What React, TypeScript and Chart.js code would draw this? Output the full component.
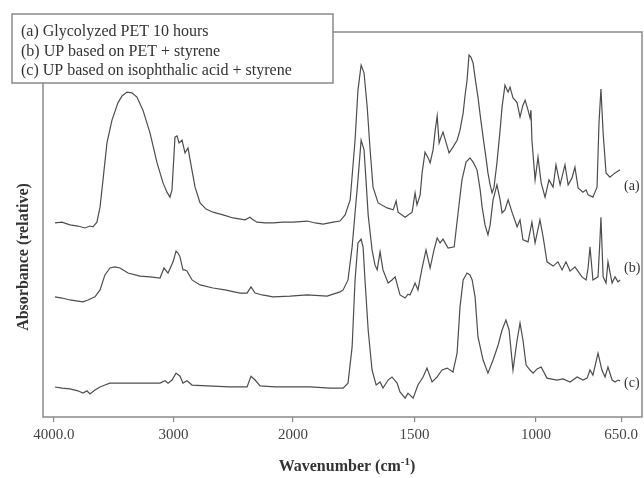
import React, { useEffect, useRef } from "react";
import { Chart, registerables } from "chart.js";

Chart.register(...registerables);

// ---- Data (wavenumber in cm-1, relative absorbance with vertical offsets as plotted) ----
const waveA = [3992, 3933, 3867, 3800, 3741, 3699, 3674, 3641, 3615, 3590, 3557, 3515, 3465, 3431, 3389, 3348, 3306, 3256, 3197, 3138, 3088, 3055, 3030, 3013, 2988, 2971, 2954, 2929, 2904, 2879, 2854, 2820, 2778, 2728, 2670, 2586, 2502, 2402, 2360, 2335, 2301, 2234, 2167, 2084, 2000, 1942, 1909, 1877, 1835, 1807, 1786, 1765, 1745, 1733, 1720, 1708, 1695, 1683, 1671, 1650, 1613, 1588, 1576, 1568, 1539, 1510, 1498, 1490, 1477, 1469, 1457, 1444, 1436, 1424, 1415, 1407, 1399, 1391, 1383, 1370, 1358, 1342, 1325, 1313, 1300, 1292, 1284, 1276, 1268, 1259, 1251, 1239, 1230, 1218, 1206, 1198, 1189, 1181, 1173, 1161, 1148, 1140, 1128, 1119, 1115, 1107, 1095, 1086, 1078, 1066, 1054, 1045, 1033, 1025, 1021, 1017, 1004, 992, 979, 963, 947, 930, 918, 901, 881, 868, 852, 840, 827, 807, 794, 786, 766, 749, 741, 733, 724, 712, 696, 675, 654];
const absA = [5.04, 5.06, 4.99, 4.96, 4.91, 4.96, 4.94, 5.06, 5.45, 6.16, 7.12, 7.71, 8.16, 8.34, 8.44, 8.42, 8.31, 7.97, 7.38, 6.6, 6.08, 5.84, 5.71, 5.9, 7.27, 7.3, 7.12, 7.19, 6.86, 6.99, 6.55, 5.97, 5.56, 5.4, 5.32, 5.25, 5.17, 5.12, 5.19, 5.12, 5.06, 5.04, 5.04, 5.06, 5.06, 5.09, 5.04, 5.01, 5.06, 5.09, 5.25, 5.64, 7.19, 8.49, 9.14, 8.94, 8.05, 6.94, 5.97, 5.56, 5.43, 5.38, 5.61, 5.32, 5.19, 5.32, 5.82, 5.51, 5.77, 6.34, 6.88, 6.73, 6.6, 6.94, 7.45, 7.82, 7.12, 7.27, 7.4, 7.12, 6.86, 7.01, 7.19, 7.45, 7.9, 8.36, 8.75, 9.4, 9.35, 9.19, 8.81, 8.31, 7.84, 7.27, 6.73, 6.34, 6.03, 5.82, 5.97, 6.6, 7.45, 8.05, 8.62, 8.49, 8.44, 8.57, 8.29, 8.23, 8.16, 7.79, 8.1, 8.23, 7.97, 7.77, 7.97, 7.19, 6.16, 6.75, 6.08, 5.71, 6.16, 5.97, 6.55, 6.03, 6.55, 6.03, 6.21, 6.49, 5.95, 5.84, 5.9, 5.77, 5.71, 5.97, 7.64, 8.52, 7.38, 6.34, 6.23, 6.34, 6.42];

const waveB = [3992, 3933, 3867, 3800, 3758, 3716, 3657, 3615, 3574, 3532, 3490, 3448, 3381, 3281, 3197, 3113, 3080, 3046, 3004, 2979, 2963, 2946, 2921, 2904, 2887, 2845, 2778, 2670, 2569, 2444, 2385, 2352, 2318, 2259, 2167, 2025, 1942, 1860, 1807, 1794, 1774, 1757, 1745, 1733, 1720, 1708, 1700, 1691, 1675, 1663, 1654, 1642, 1630, 1609, 1593, 1580, 1560, 1539, 1527, 1519, 1506, 1498, 1486, 1469, 1453, 1436, 1420, 1407, 1395, 1383, 1362, 1337, 1321, 1305, 1288, 1272, 1259, 1243, 1230, 1222, 1210, 1198, 1189, 1177, 1161, 1148, 1140, 1128, 1115, 1099, 1078, 1066, 1054, 1033, 1017, 1004, 984, 971, 955, 930, 910, 893, 877, 860, 840, 811, 794, 786, 778, 766, 745, 737, 733, 724, 712, 704, 687, 675, 663, 654];
const absB = [3.12, 3.09, 3.04, 3.01, 2.99, 3.04, 3.12, 3.3, 3.69, 3.87, 3.9, 3.87, 3.74, 3.66, 3.64, 3.61, 3.87, 3.74, 4.03, 4.31, 4.26, 4.16, 3.82, 3.82, 3.79, 3.56, 3.43, 3.35, 3.3, 3.22, 3.22, 3.38, 3.22, 3.17, 3.12, 3.14, 3.17, 3.14, 3.25, 3.3, 3.56, 4.42, 5.3, 6.16, 7.19, 6.94, 6.16, 5.25, 4.34, 3.95, 3.82, 4.29, 3.82, 3.48, 3.56, 3.64, 3.17, 3.09, 3.19, 3.17, 3.35, 3.48, 3.3, 3.87, 4.34, 3.87, 4.34, 4.65, 4.52, 4.62, 4.39, 4.42, 5.3, 6.16, 6.62, 6.73, 6.62, 6.42, 5.9, 5.45, 4.99, 4.73, 4.99, 5.64, 6.03, 5.64, 5.3, 5.38, 5.64, 5.32, 4.94, 5.12, 4.6, 4.55, 5.06, 4.52, 5.12, 4.68, 4.03, 3.92, 4.03, 3.82, 4.03, 3.79, 3.9, 3.64, 3.56, 3.87, 4.42, 3.56, 3.64, 4.6, 5.19, 3.64, 3.48, 4.03, 3.48, 3.64, 3.51, 3.56];

const waveC = [3992, 3933, 3867, 3800, 3758, 3724, 3699, 3657, 3615, 3574, 3532, 3423, 3281, 3113, 3071, 3046, 3013, 2979, 2946, 2921, 2887, 2845, 2720, 2527, 2385, 2352, 2318, 2276, 2151, 2025, 1930, 1848, 1794, 1774, 1757, 1745, 1733, 1720, 1712, 1704, 1691, 1675, 1658, 1642, 1630, 1609, 1593, 1572, 1560, 1539, 1527, 1506, 1486, 1465, 1449, 1428, 1407, 1387, 1366, 1342, 1325, 1313, 1300, 1284, 1272, 1263, 1251, 1239, 1218, 1198, 1177, 1156, 1140, 1124, 1111, 1095, 1078, 1066, 1054, 1041, 1025, 1012, 996, 979, 955, 914, 889, 860, 831, 807, 790, 778, 766, 745, 729, 716, 704, 687, 675, 663, 654];
const absC = [0.78, 0.75, 0.73, 0.68, 0.62, 0.68, 0.6, 0.7, 0.78, 0.83, 0.88, 0.88, 0.88, 0.88, 0.94, 0.88, 0.96, 1.14, 1.06, 0.88, 0.94, 0.83, 0.81, 0.78, 0.78, 1.06, 0.96, 0.81, 0.78, 0.78, 0.78, 0.75, 0.75, 0.88, 1.82, 3.56, 4.52, 4.62, 4.42, 3.56, 2.26, 1.22, 0.83, 0.91, 0.75, 0.96, 1.04, 0.88, 0.65, 0.49, 0.62, 0.49, 0.83, 1.04, 1.27, 0.91, 1.04, 1.22, 1.27, 1.17, 1.66, 2.86, 3.56, 3.74, 3.69, 3.56, 3.12, 2.08, 1.48, 1.14, 1.48, 1.87, 2.26, 2.52, 2.26, 1.22, 2.0, 2.44, 2.0, 1.35, 1.22, 1.14, 1.25, 1.3, 1.01, 0.96, 0.99, 0.91, 1.04, 0.96, 1.01, 1.22, 1.09, 1.66, 1.22, 1.04, 1.3, 0.96, 0.91, 0.96, 0.94];

const legendLines = [
  "(a) Glycolyzed PET 10 hours",
  "(b) UP based on PET + styrene",
  "(c) UP based on isophthalic acid + styrene",
];
const endTags = ["(a)", "(b)", "(c)"];
const endTagValues = [6.0, 3.87, 0.88];
const tickWaves = [4000, 3000, 2000, 1500, 1000, 650];
const tickLabels = ["4000.0", "3000", "2000", "1500", "1000", "650.0"];
const axisMinWave = 564;
const axisMaxWave = 4092;

// Spectrometer-style axis: region above 2000 cm-1 is compressed
const EXP = 0.492;
const toAxis = (w: number) => (w <= 2000 ? w : 2000 + (w - 2000) * EXP);

const SERIF = '"Liberation Serif", "Times New Roman", "DejaVu Serif", serif';
const LINE = "#4d4d4d";
const FRAME = "#8a8a8a";
const TEXT = "#333333";

const decorPlugin = {
  id: "decor",
  afterDraw(chart: any) {
    const { ctx, chartArea: ca, scales } = chart;
    ctx.save();
    // plot frame
    ctx.strokeStyle = FRAME;
    ctx.lineWidth = 1.5;
    ctx.strokeRect(ca.left, ca.top, ca.right - ca.left, ca.bottom - ca.top);

    // legend box
    const lx = 12, ly = 14, lw = 321, lh = 69;
    ctx.fillStyle = "#ffffff";
    ctx.fillRect(lx, ly, lw, lh);
    ctx.strokeStyle = FRAME;
    ctx.lineWidth = 1.5;
    ctx.strokeRect(lx, ly, lw, lh);
    ctx.fillStyle = TEXT;
    ctx.font = `16px ${SERIF}`;
    ctx.textAlign = "left";
    ctx.textBaseline = "middle";
    legendLines.forEach((t, i) => ctx.fillText(t, 21, 32 + i * 19.5));

    // end tags
    ctx.font = `14px ${SERIF}`;
    const tx = scales.x.getPixelForValue(toAxis(650)) + 3;
    endTags.forEach((t, i) => {
      ctx.fillText(t, tx, scales.y.getPixelForValue(endTagValues[i]));
    });

    // x title with superscript
    ctx.font = `bold 16px ${SERIF}`;
    const part1 = "Wavenumber (cm";
    const sup = "-1";
    const part3 = ")";
    const w1 = ctx.measureText(part1).width;
    const w3 = ctx.measureText(part3).width;
    ctx.font = `bold 11px ${SERIF}`;
    const w2 = ctx.measureText(sup).width;
    const total = w1 + w2 + w3;
    let x0 = 347 - total / 2;
    const yb = 471;
    ctx.textBaseline = "alphabetic";
    ctx.font = `bold 16px ${SERIF}`;
    ctx.fillText(part1, x0, yb);
    ctx.font = `bold 11px ${SERIF}`;
    ctx.fillText(sup, x0 + w1, yb - 6);
    ctx.font = `bold 16px ${SERIF}`;
    ctx.fillText(part3, x0 + w1 + w2, yb);

    // y title
    ctx.translate(24, 257);
    ctx.rotate(-Math.PI / 2);
    ctx.textAlign = "center";
    ctx.textBaseline = "middle";
    ctx.font = `bold 16px ${SERIF}`;
    ctx.fillText("Absorbance (relative)", 0, 0);
    ctx.restore();
  },
};

const mk = (w: number[], a: number[]) => w.map((v, i) => ({ x: toAxis(v), y: a[i] }));

export default function App() {
  const ref = useRef<HTMLCanvasElement>(null);
  useEffect(() => {
    document.body.style.margin = "0";
    const canvas = ref.current;
    if (!canvas) return;
    const ds = (data: any) => ({
      data,
      borderColor: LINE,
      borderWidth: 1.2,
      pointRadius: 0,
      tension: 0,
      fill: false,
    });
    const chart = new Chart(canvas, {
      type: "line",
      data: {
        datasets: [mk(waveA, absA), mk(waveB, absB), mk(waveC, absC)].map(ds),
      },
      options: {
        animation: false,
        responsive: false,
        devicePixelRatio: 1,
        layout: { padding: { left: 43, right: 2, top: 32, bottom: 0 } },
        plugins: { legend: { display: false }, tooltip: { enabled: false } },
        scales: {
          x: {
            type: "linear",
            reverse: true,
            min: toAxis(axisMinWave),
            max: toAxis(axisMaxWave),
            afterBuildTicks: (s: any) => {
              s.ticks = tickWaves.map((w) => ({ value: toAxis(w) }));
            },
            afterFit: (s: any) => {
              s.height = 61;
            },
            grid: {
              display: true,
              drawOnChartArea: false,
              drawTicks: true,
              tickLength: 5,
              color: FRAME,
              lineWidth: 1.2,
            },
            border: { display: false },
            ticks: {
              autoSkip: false,
              maxRotation: 0,
              padding: 4,
              color: "#444",
              font: { family: SERIF, size: 15 },
              callback: (_v: any, i: number) => tickLabels[i],
            },
          },
          y: { display: false, min: 0, max: 10 },
        },
      },
      plugins: [decorPlugin],
    });
    return () => chart.destroy();
  }, []);
  return <canvas ref={ref} width={644} height={478} style={{ display: "block" }} />;
}
